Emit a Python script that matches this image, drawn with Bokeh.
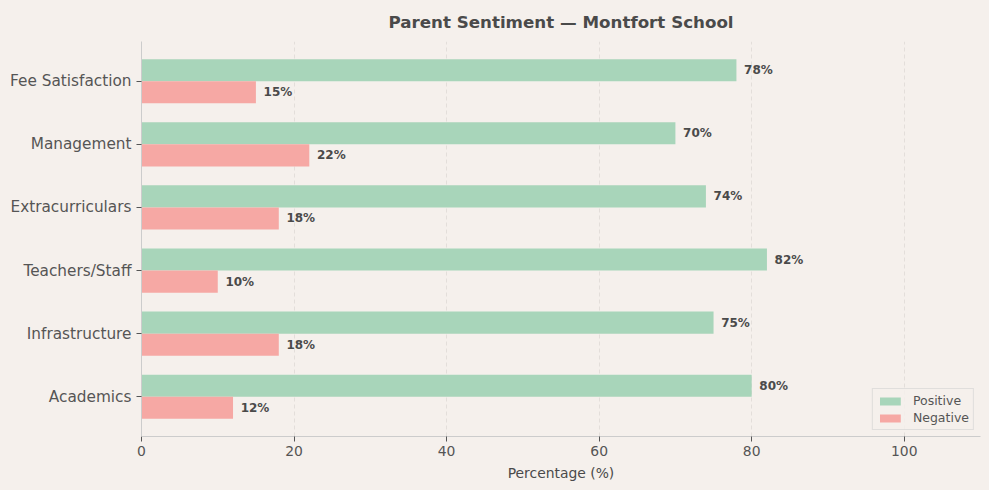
from bokeh.plotting import figure
from bokeh.models import FixedTicker, Range1d, ColumnDataSource, Legend, LegendItem
from bokeh.core.properties import value
from bokeh.embed import file_html
from bokeh.resources import INLINE

categories = ["Academics", "Infrastructure", "Teachers/Staff",
              "Extracurriculars", "Management", "Fee Satisfaction"]
positive = [80, 75, 82, 74, 70, 78]
negative = [12, 18, 10, 18, 22, 15]

BG = "#f5f0ec"
GREEN = "#a8d5ba"
RED = "#f6a8a4"
TEXT = "#4a4a4a"
FONT = "DejaVu Sans"
bar_h = 0.35

idx = list(range(len(categories)))
pos_src = ColumnDataSource(dict(
    y=[i + bar_h / 2 for i in idx], v=positive,
    lx=[v + 1 for v in positive], lab=["%d%%" % v for v in positive]))
neg_src = ColumnDataSource(dict(
    y=[i - bar_h / 2 for i in idx], v=negative,
    lx=[v + 1 for v in negative], lab=["%d%%" % v for v in negative]))

p = figure(width=989, height=490, output_backend="svg", toolbar_location=None,
           x_range=Range1d(0, 110), y_range=Range1d(-0.63, 5.63),
           min_border_left=141, min_border_right=9, min_border_top=41,
           min_border_bottom=54)
p.background_fill_color = BG
p.border_fill_color = BG
p.outline_line_color = None

p.title.text = "Parent Sentiment \u2014 Montfort School"
p.title.align = "center"
p.title.text_font = FONT
p.title.text_font_size = "16.7px"
p.title.text_color = TEXT
p.title.text_font_style = "bold"
p.title.standoff = 19

r_pos = p.hbar(y="y", right="v", left=0, height=bar_h, source=pos_src,
               fill_color=GREEN, line_color=None)
r_neg = p.hbar(y="y", right="v", left=0, height=bar_h, source=neg_src,
               fill_color=RED, line_color=None)

for src in (pos_src, neg_src):
    p.text(x="lx", y="y", text="lab", source=src, text_baseline="middle",
           text_font=value(FONT), text_font_size="12px", text_font_style="bold",
           text_color=TEXT)

p.xaxis.ticker = FixedTicker(ticks=[0, 20, 40, 60, 80, 100])
p.xaxis.axis_label = "Percentage (%)"
p.xaxis.axis_label_text_font = FONT
p.xaxis.axis_label_text_font_size = "13.9px"
p.xaxis.axis_label_text_font_style = "normal"
p.xaxis.axis_label_text_color = TEXT
p.xaxis.axis_label_standoff = 6

p.yaxis.ticker = FixedTicker(ticks=idx)
p.yaxis.major_label_overrides = {i: c for i, c in zip(idx, categories)}
p.yaxis.major_label_text_font_size = "15.3px"
p.xaxis.major_label_text_font_size = "13.9px"

for ax in (p.xaxis, p.yaxis):
    ax.major_label_text_font = FONT
    ax.major_label_text_color = "#555555"
    ax.axis_line_color = "#cccccc"
    ax.major_tick_line_color = "#555555"
    ax.major_tick_out = 5
    ax.major_tick_in = 0
    ax.minor_tick_line_color = None
p.yaxis.major_label_standoff = 5
p.xaxis.major_label_standoff = 4

p.ygrid.grid_line_color = None
p.xgrid.grid_line_color = "#e3deda"
p.xgrid.grid_line_dash = "4 3"
p.xgrid.ticker = FixedTicker(ticks=[20, 40, 60, 80, 100])

legend = Legend(items=[LegendItem(label="Positive", renderers=[r_pos]),
                       LegendItem(label="Negative", renderers=[r_neg])],
                location="bottom_right")
legend.label_text_font = FONT
legend.label_text_font_size = "12.5px"
legend.label_text_color = "#555555"
legend.background_fill_color = BG
legend.background_fill_alpha = 0.8
legend.border_line_color = "#cccccc"
legend.margin = 6
legend.padding = 4
legend.spacing = 2
legend.glyph_width = 26
legend.glyph_height = 10
legend.label_height = 14
legend.label_standoff = 10
p.add_layout(legend)

html = file_html(p, INLINE)
html = html.replace("<head>", "<head><style>body{background:%s;}</style>" % BG, 1)
open("out.html", "w").write(html)
